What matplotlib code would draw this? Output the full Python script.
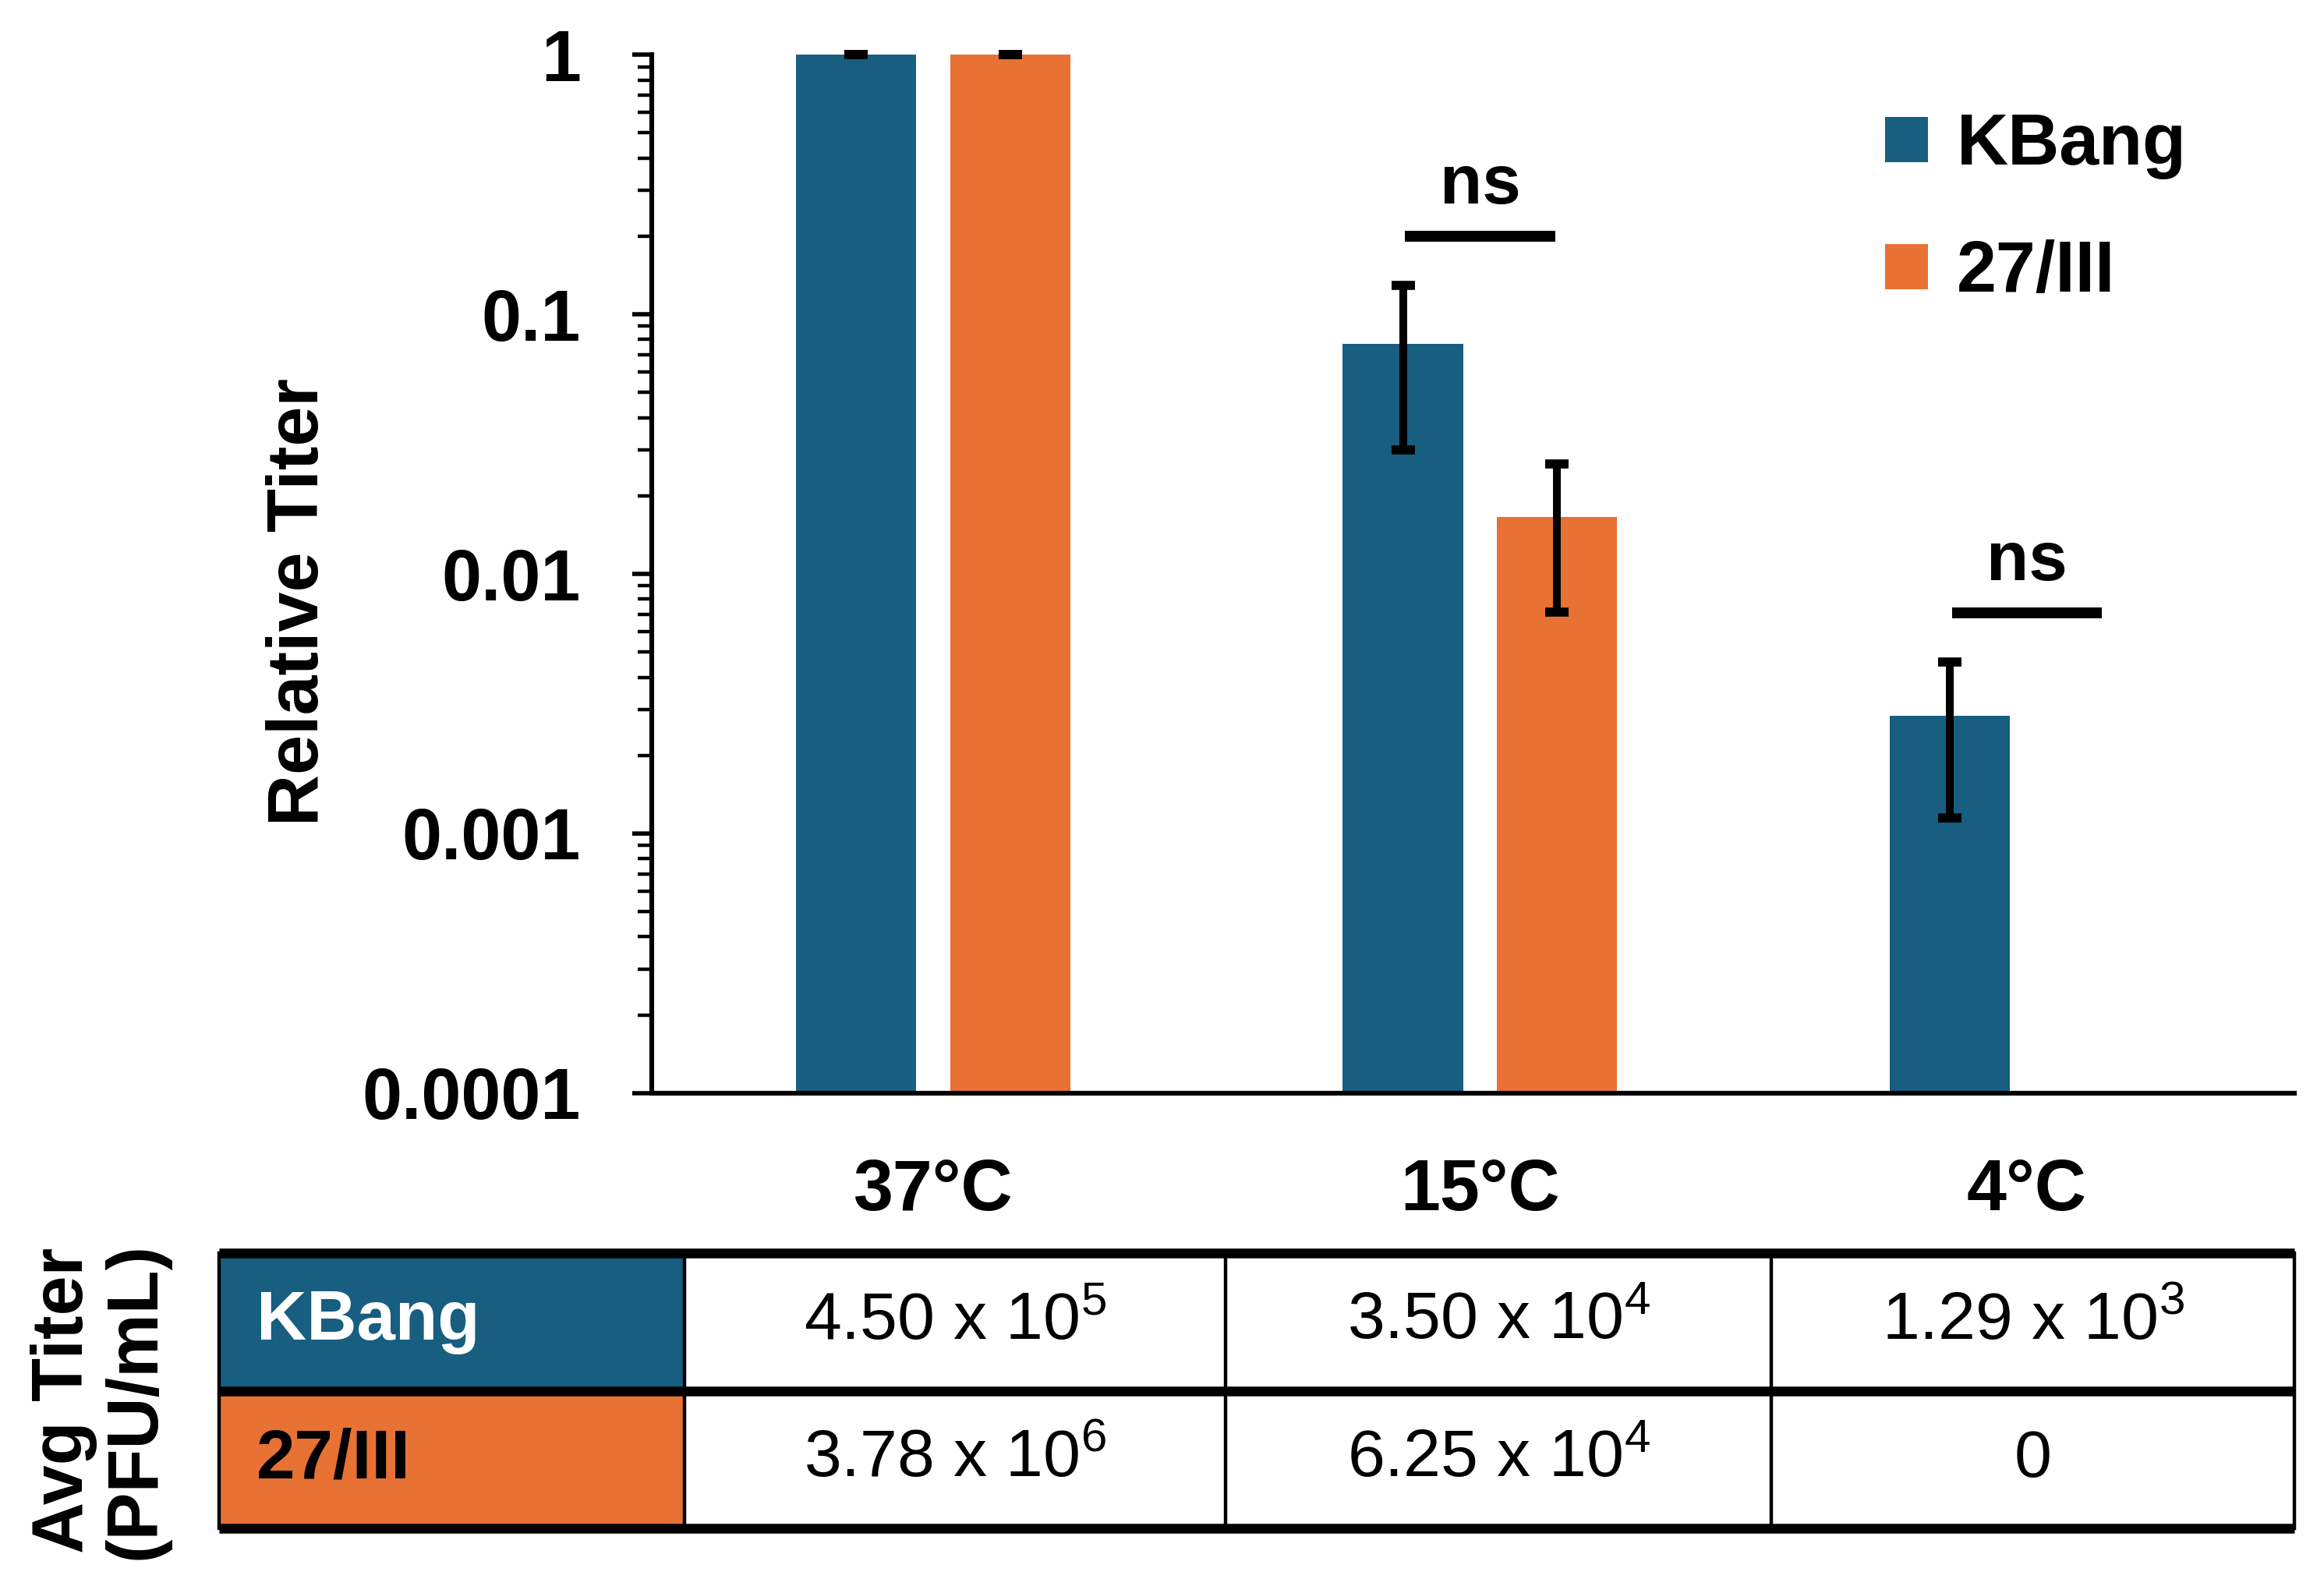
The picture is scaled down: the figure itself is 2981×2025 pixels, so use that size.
import numpy as np
import matplotlib
matplotlib.use("Agg")
import matplotlib.pyplot as plt
from matplotlib.patches import Rectangle

plt.rcParams['font.family'] = ['Liberation Sans', 'DejaVu Sans']
plt.rcParams['mathtext.fontset'] = 'custom'
plt.rcParams['mathtext.rm'] = 'Liberation Sans'
plt.rcParams['mathtext.it'] = 'Liberation Sans:italic'
plt.rcParams['mathtext.bf'] = 'Liberation Sans:bold'

# data
temps = ['37°C', '15°C', '4°C']
strains = ['KBang', '27/III']
kbang_rel = [1.0, 0.077, 0.00285]
kbang_lo = [1.0, 0.030, 0.00115]
kbang_hi = [1.0, 0.129, 0.00457]
iii_rel = [1.0, 0.0166, 0.0]
iii_lo = [1.0, 0.00715, np.nan]
iii_hi = [1.0, 0.0266, np.nan]
kbang_titer = [4.50e5, 3.50e4, 1.29e3]
iii_titer = [3.78e6, 6.25e4, 0]
ns_groups = [1, 2]
ns_height = [0.20, 0.0071]

blue = '#175E80'
orange = '#E87134'
colors = [blue, orange]


def fmt_titer(v):
    if v == 0:
        return '0'
    exp = int(np.floor(np.log10(v)))
    mant = v / 10 ** exp
    return f'{mant:.2f} x 10$^{{{exp}}}$'


fig = plt.figure(figsize=(14.905, 10.125), dpi=200)
ax = fig.add_axes([0.2806, 0.3077, 0.7066, 0.6576])

x = np.arange(len(temps))
w = 0.22
off = 0.141
series = [(kbang_rel, kbang_lo, kbang_hi), (iii_rel, iii_lo, iii_hi)]
for i, (vals, lo, hi) in enumerate(series):
    vals = np.array(vals)
    lo = np.array(lo)
    hi = np.array(hi)
    xs = x + (i * 2 - 1) * off
    ax.bar(xs, vals, width=w, color=colors[i], label=strains[i], zorder=2)
    err = np.vstack([vals - lo, hi - vals])
    ax.errorbar(xs, vals, yerr=err, fmt='none', ecolor='black',
                elinewidth=3.6, capsize=5.5, capthick=4.2, zorder=3,
                clip_on=False)

ax.set_yscale('log')
ax.set_ylim(1e-4, 1)
ax.set_xlim(-0.514, 2.489)
ax.set_yticks([1e-4, 1e-3, 1e-2, 1e-1, 1])
ax.set_yticklabels([f'{v:g}' for v in [1e-4, 1e-3, 1e-2, 1e-1, 1]])
ax.tick_params(axis='y', which='major', length=9, width=2, pad=24,
               labelsize=33)
ax.tick_params(axis='y', which='minor', length=6.5, width=1.6)
for lab in ax.get_yticklabels():
    lab.set_fontweight('bold')
ax.set_xticks(x)
ax.set_xticklabels(temps, fontsize=33, fontweight='bold')
ax.tick_params(axis='x', length=0, pad=30)
ax.spines['top'].set_visible(False)
ax.spines['right'].set_visible(False)
ax.spines['left'].set_linewidth(2.2)
ax.spines['bottom'].set_linewidth(2.2)

# significance brackets
for g, h in zip(ns_groups, ns_height):
    ax.plot([g - 0.137, g + 0.137], [h, h], color='black', lw=5,
            solid_capstyle='butt', zorder=3)
    ax.text(g, h * 1.17, 'ns', ha='center', va='bottom', fontsize=32,
            fontweight='bold')

fig.text(0.1288, 0.619, 'Relative Titer', rotation=90, ha='center',
         va='center', fontsize=33, fontweight='bold')

ax.legend(loc='upper left', bbox_to_anchor=(1272 / 1568, 1 - 76 / 1066),
          bbox_transform=fig.transFigure, frameon=False, borderpad=0,
          borderaxespad=0, handlelength=0.6, handleheight=0.6,
          handletextpad=0.4, labelspacing=0.84,
          prop={'size': 33, 'weight': 'bold'})

# table of average titers
tax = fig.add_axes([0.0944, 0.0319, 0.8928, 0.1745])
tax.set_xlim(0, 1)
tax.set_ylim(0, 2)
tax.axis('off')
col_edges = [0, 0.2243, 0.485, 0.748, 1.0]
rows = [kbang_titer, iii_titer]
for r, (name, titers) in enumerate(zip(strains, rows)):
    y0 = 1 - r
    tax.add_patch(Rectangle((0, y0), col_edges[1], 1, facecolor=colors[r],
                            edgecolor='none'))
    tax.text(0.018, y0 + 0.5, name, ha='left', va='center', fontsize=32,
             fontweight='bold', color='white' if r == 0 else 'black')
    for c, v in enumerate(titers):
        cx = (col_edges[c + 1] + col_edges[c + 2]) / 2
        tax.text(cx, y0 + 0.5, fmt_titer(v), ha='center', va='center',
                 fontsize=31)
for xe in col_edges:
    tax.plot([xe, xe], [0, 2], color='black', lw=1.6, clip_on=False)
for ye in [0, 1, 2]:
    tax.plot([0, 1], [ye, ye], color='black', lw=4.5, clip_on=False,
             solid_capstyle='butt')

fig.text(0.043, 0.113, 'Avg Titer\n(PFU/mL)', rotation=90, ha='center',
         va='center', fontsize=33, fontweight='bold', linespacing=1.1)

fig.savefig('out.png', dpi=200)
